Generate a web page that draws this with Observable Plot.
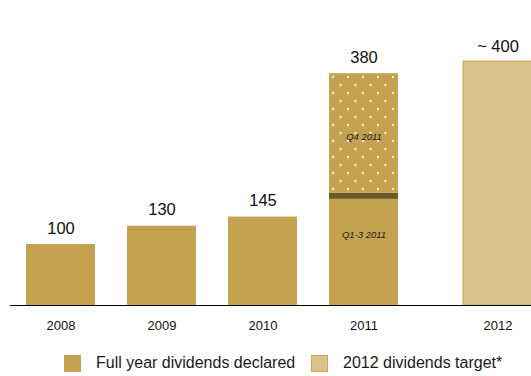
<!DOCTYPE html>
<html>
<head>
<meta charset="utf-8">
<script src="https://cdn.jsdelivr.net/npm/d3@7"></script>
<script src="https://cdn.jsdelivr.net/npm/@observablehq/plot@0.6"></script>
<style>
  html, body { margin: 0; padding: 0; background: #fff; }
  body { width: 531px; height: 376px; overflow: hidden; font-family: "Liberation Sans", Arial, sans-serif; }
  #legend { position: relative; height: 36px; }
  .item { position: absolute; top: 14px; display: flex; align-items: center; font-size: 16px; color: #1a1a1a; }
  .sw { width: 17px; height: 17px; margin-right: 15px; box-sizing: border-box; }
</style>
</head>
<body>
<div id="chart"></div>
<div id="legend"></div>
<script>
// ---- data ----
const years = ["2008", "2009", "2010", "2011", "2012"];
const declaredYears = ["2008", "2009", "2010"];
const declaredValues = [100, 130, 145];
const parts2011 = ["Q1-3 2011", "separator", "Q4 2011"];
const partValues2011 = [174, 10, 196];
const total2011 = 380;
const targetYear = "2012";
const targetValue = 400;
const valueLabels = ["100", "130", "145", "380", "~ 400"];
const legendLabels = ["Full year dividends declared", "2012 dividends target*"];

// ---- colours ----
const gold = "#C4A24F";
const lightGold = "#D8C48B";
const lightStroke = "#C8A85B";
const darkBand = "#6E5A2B";
const partFill = {"Q1-3 2011": gold, "separator": darkBand, "Q4 2011": "url(#dots)"};

const declared = declaredYears.map((y, i) => ({year: y, value: declaredValues[i]}));
const segs = parts2011.map((p, i) => ({year: "2011", part: p, value: partValues2011[i]}));
const totals = years.map((y, i) => ({
  year: y,
  value: y === targetYear ? targetValue : (y === "2011" ? total2011 : declaredValues[i]),
  label: valueLabels[i]
}));
const target = [{year: targetYear, value: targetValue}];
const shift = 33;

const font = "'Liberation Sans', Arial, sans-serif";

const chart = Plot.plot({
  width: 531,
  height: 340,
  marginLeft: 10,
  marginRight: 0,
  marginTop: 0,
  marginBottom: 0,
  style: {fontFamily: font, background: "#fff", overflow: "hidden"},
  x: {domain: years, range: [26, 499], paddingInner: 0.317, paddingOuter: 0, axis: null},
  y: {domain: [0, 400], range: [305, 61], axis: null},
  color: {type: "identity"},
  marks: [
    Plot.barY(declared, {x: "year", y: "value", fill: gold}),
    Plot.barY(segs, Plot.stackY({x: "year", y: "value", fill: d => partFill[d.part]})),
    Plot.barY(target, {x: "year", y: "value", fill: lightGold, stroke: lightStroke, strokeWidth: 1, dx: shift}),
    Plot.text(segs, Plot.stackY({x: "year", y: "value", text: d => d.part === "Q4 2011" ? d.part : "", fontStyle: "italic", fontSize: 9.5, fill: "#1a1a1a", dy: 3})),
    Plot.text(segs, Plot.stackY({x: "year", y: "value", text: d => d.part === "Q1-3 2011" ? d.part : "", fontStyle: "italic", fontSize: 9.5, fill: "#1a1a1a", dy: -17})),
    Plot.text(totals.filter(d => d.year !== targetYear), {x: "year", y: "value", text: "label", fontSize: 16.5, fill: "#111", dy: -16}),
    Plot.text(totals.filter(d => d.year === targetYear), {x: "year", y: "value", text: "label", fontSize: 16.5, fill: "#111", dy: -15, dx: shift}),
    Plot.text(years.filter(y => y !== targetYear), {x: d => d, y: 0, text: d => d, fontSize: 13, fill: "#111", dy: 20}),
    Plot.text([targetYear], {x: d => d, y: 0, text: d => d, fontSize: 13, fill: "#111", dy: 20, dx: shift}),
    Plot.ruleY([0], {stroke: "#000", strokeWidth: 1.2})
  ]
});

// dotted pattern for Q4 segment
const ns = "http://www.w3.org/2000/svg";
const defs = document.createElementNS(ns, "defs");
defs.innerHTML = `<pattern id="dots" patternUnits="userSpaceOnUse" width="15" height="16" x="329" y="73">
  <rect width="15" height="16" fill="${gold}"></rect>
  <circle cx="4" cy="4" r="1.15" fill="#F8F2E0"></circle>
  <circle cx="11.5" cy="12" r="1.15" fill="#F8F2E0"></circle>
</pattern>`;
chart.insertBefore(defs, chart.firstChild);
document.getElementById("chart").appendChild(chart);

// legend
const legend = document.getElementById("legend");
const items = [
  {label: legendLabels[0], fill: gold, stroke: gold, left: 64},
  {label: legendLabels[1], fill: lightGold, stroke: lightStroke, left: 311}
];
for (const it of items) {
  const div = document.createElement("div");
  div.className = "item";
  div.style.left = it.left + "px";
  const sw = document.createElement("span");
  sw.className = "sw";
  sw.style.background = it.fill;
  sw.style.border = "1px solid " + it.stroke;
  const t = document.createElement("span");
  t.textContent = it.label;
  div.appendChild(sw);
  div.appendChild(t);
  legend.appendChild(div);
}
</script>
</body>
</html>
